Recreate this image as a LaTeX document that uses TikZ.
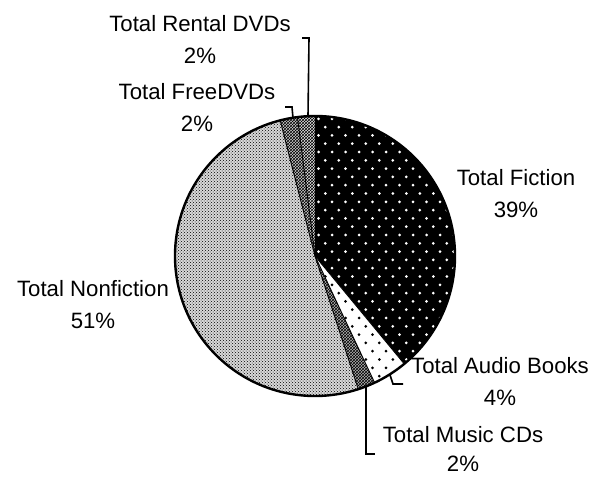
\documentclass[tikz,border=0pt]{standalone}
\usepackage{fontspec}
\setmainfont{Liberation Sans}
\usetikzlibrary{patterns}
\begin{document}
\begin{tikzpicture}[x=1pt,y=1pt,
  lbl/.style={align=center,font=\fontsize{22.2}{32}\selectfont,inner sep=0pt},
  lbltight/.style={align=center,font=\fontsize{22.2}{29}\selectfont,inner sep=0pt},
  leader/.style={line width=1.6pt},
  rim/.style={line width=2.4pt},
  edge/.style={line width=0.9pt},
  slice/.style 2 args={insert path={(C) -- ++(#1:140pt) arc[start angle=#1, end angle=#2, radius=140pt] -- cycle}}]
\useasboundingbox (0,0) rectangle (597,477);
\coordinate (C) at (315,221);
% Fiction: black with white dots
\begin{scope}
  \path[clip, slice={90}{-50.4}];
  \fill[black] (C) circle (150);
  \foreach \j in {0,...,35} {
    \foreach \i in {0,...,11} {
      \fill[white] ({305+\i*13.5+mod(\j,2)*6.75},{76+\j*8.3}) circle (1.5);
    }
  }
\end{scope}
% Audio books: white with black dots
\begin{scope}
  \path[clip, slice={-50.4}{-64.8}];
  \fill[white] (C) circle (150);
  \foreach \j in {0,...,18} {
    \foreach \i in {0,...,8} {
      \fill[black] ({305+\i*13.5+mod(\j,2)*6.75},{76+\j*8.3}) circle (1.5);
    }
  }
\end{scope}
% Music CDs
\path[slice={-64.8}{-72}, preaction={fill=gray!60}, pattern=crosshatch];
% Nonfiction
\path[slice={-72}{-255.6}, preaction={fill=gray!30}, pattern=crosshatch dots];
% Free DVDs
\path[slice={-255.6}{-262.8}, preaction={fill=gray!40}, pattern=crosshatch];
% Rental DVDs
\path[slice={-262.8}{-270}, preaction={fill=gray!20}, pattern=crosshatch];
% slice edges
\foreach \a in {90,-50.4,-64.8,-72,-255.6,-262.8} {
  \draw[edge] (C) -- ++(\a:140pt);
}
\draw[rim] (C) circle (140);

% labels
\node[lbl] (rental) at (200,437) {Total Rental DVDs\\2\%};
\node[lbl] (free) at (197,369) {Total FreeDVDs\\2\%};
\node[lbl] (fiction) at (516,283) {Total Fiction\\39\%};
\node[lbl] (nonfiction) at (93,172) {Total Nonfiction\\51\%};
\node[lbl] (audio) at (500,95) {Total Audio Books\\4\%};
\node[lbltight] (music) at (463,28) {Total Music CDs\\2\%};

% leaders
\coordinate (r1) at (302,439);
\coordinate (r2) at (309,439);
\coordinate (r3) at (308,361);
\draw[leader] (r1) -- (r2) -- (r3);
\coordinate (f1) at (285,370);
\coordinate (f2) at (292,370);
\coordinate (f3) at (293,359);
\draw[leader] (f1) -- (f2) -- (f3);
\coordinate (a1) at (390,102);
\coordinate (a2) at (393,93);
\coordinate (a3) at (403,93);
\draw[leader] (a1) -- (a2) -- (a3);
\coordinate (m1) at (366,91);
\coordinate (m2) at (366,23);
\coordinate (m3) at (375,23);
\draw[leader] (m1) -- (m2) -- (m3);
\end{tikzpicture}
\end{document}
